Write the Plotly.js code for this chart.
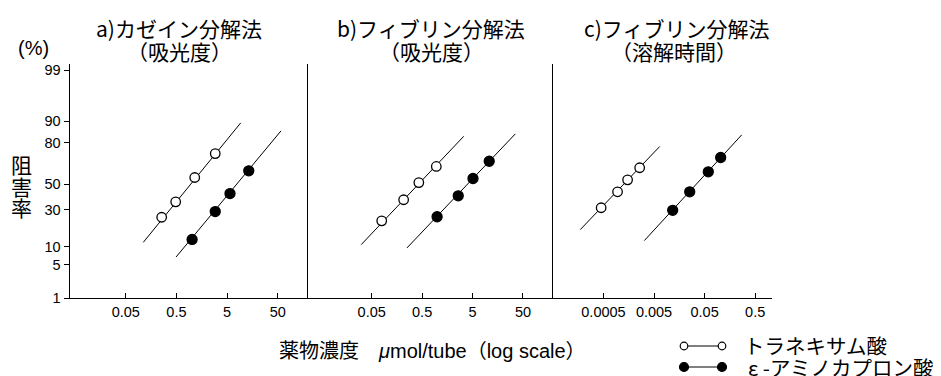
<!DOCTYPE html>
<html>
<head>
<meta charset="utf-8">
<script src="https://cdn.plot.ly/plotly-3.0.1.min.js"></script>
<style>html,body{margin:0;padding:0;background:#fff}#chart{width:941px;height:376px}</style>
</head>
<body>
<div id="chart"></div>
<script>
// ---- data (percent inhibition vs concentration, µmol/tube) ----
const yTickPct = [1, 5, 10, 30, 50, 80, 90, 99];
const xTicksAB = [0.05, 0.5, 5, 50];
const xTicksC = [0.0005, 0.005, 0.05, 0.5];

// a) casein method (absorbance)
const aTranX = [0.256, 0.484, 1.15, 2.92];
const aTranY = [24.9, 35.8, 55.3, 73.3];
const aTranFitX = [0.111, 9.29];
const aTranFitY = [11.7, 89.4];
const aEacaX = [1.02, 2.92, 5.71, 13.4];
const aEacaY = [12.9, 28.7, 42.3, 60.6];
const aEacaFitX = [0.491, 58.0];
const aEacaFitY = [6.8, 86.1];

// b) fibrin method (absorbance)
const bTranX = [0.079, 0.215, 0.43, 0.955];
const bTranY = [22.6, 37.4, 51.2, 64.0];
const bTranFitX = [0.031, 3.34];
const bTranFitY = [10.8, 83.5];
const bEacaX = [0.99, 2.6, 5.1, 10.7];
const bEacaY = [25.2, 40.5, 54.5, 67.9];
const bEacaFitX = [0.25, 35.2];
const bEacaFitY = [9.6, 84.7];

// c) fibrin method (lysis time)
const cTranX = [0.00045, 0.00095, 0.0015, 0.0026];
const cTranY = [31.4, 43.7, 53.4, 63.0];
const cTranFitX = [0.000174, 0.00647];
const cTranFitY = [17.6, 77.8];
const cEacaX = [0.0117, 0.0254, 0.0592, 0.104];
const cEacaY = [29.6, 43.7, 59.8, 70.6];
const cEacaFitX = [0.00321, 0.271];
const cEacaFitY = [12.4, 84.2];

const panelTitles = [
  ["a)カゼイン分解法", "（吸光度）"],
  ["b)フィブリン分解法", "（吸光度）"],
  ["c)フィブリン分解法", "（溶解時間）"]
];
const legendNames = ["トラネキサム酸", "ε -アミノカプロン酸"];
const xTitle = "薬物濃度　<i>μ</i>mol/tube（log scale）";
const yTitleChars = ["阻", "害", "率"];

// ---- probability (probit) scale for the y axis ----
function probit(p) {
  const a=[-3.969683028665376e+01,2.209460984245205e+02,-2.759285104469687e+02,1.383577518672690e+02,-3.066479806614716e+01,2.506628277459239e+00];
  const b=[-5.447609879822406e+01,1.615858368580409e+02,-1.556989798598866e+02,6.680131188771972e+01,-1.328068155288572e+01];
  const c=[-7.784894002430293e-03,-3.223964580411365e-01,-2.400758277161838e+00,-2.549732539343734e+00,4.374664141464968e+00,2.938163982698783e+00];
  const d=[7.784695709041462e-03,3.224671290700398e-01,2.445134137142996e+00,3.754408661907416e+00];
  const pl=0.02425, ph=1-pl; let q,r;
  if (p<pl){q=Math.sqrt(-2*Math.log(p));return (((((c[0]*q+c[1])*q+c[2])*q+c[3])*q+c[4])*q+c[5])/((((d[0]*q+d[1])*q+d[2])*q+d[3])*q+1);}
  if (p<=ph){q=p-0.5;r=q*q;return (((((a[0]*r+a[1])*r+a[2])*r+a[3])*r+a[4])*r+a[5])*q/(((((b[0]*r+b[1])*r+b[2])*r+b[3])*r+b[4])*r+1);}
  q=Math.sqrt(-2*Math.log(1-p));return -(((((c[0]*q+c[1])*q+c[2])*q+c[3])*q+c[4])*q+c[5])/((((d[0]*q+d[1])*q+d[2])*q+d[3])*q+1);
}
const pz = arr => arr.map(v => probit(v / 100));

// ---- layout geometry ----
const W = 941, H = 376;
const L = 70, R = 772, T = 64, B = 298;
const PW = R - L, PH = B - T;
const px = x => (x - L) / PW;
const py = y => (B - y) / PH;
const dA = [0, (308 - L) / PW], dB = [(308 - L) / PW, (553 - L) / PW], dC = [(553 - L) / PW, 1];

const CJK = "Noto Sans CJK JP, sans-serif";
const LAT = "Liberation Sans, Arial, Noto Sans CJK JP, sans-serif";

function fitLine(x, y, xa, ya) {
  return {x: x, y: pz(y), xaxis: xa, yaxis: ya, mode: "lines", type: "scatter",
    line: {color: "#000", width: 1}, hoverinfo: "skip", showlegend: false};
}
function pts(x, y, xa, ya, open) {
  return {x: x, y: pz(y), xaxis: xa, yaxis: ya, mode: "markers", type: "scatter", showlegend: false,
    marker: {symbol: "circle", size: open ? 9.5 : 10, color: open ? "#fff" : "#000",
      line: {color: "#000", width: 1.3}}};
}

const data = [
  fitLine(aTranFitX, aTranFitY, "x", "y"), fitLine(aEacaFitX, aEacaFitY, "x", "y"),
  fitLine(bTranFitX, bTranFitY, "x2", "y2"), fitLine(bEacaFitX, bEacaFitY, "x2", "y2"),
  fitLine(cTranFitX, cTranFitY, "x3", "y3"), fitLine(cEacaFitX, cEacaFitY, "x3", "y3"),
  pts(aTranX, aTranY, "x", "y", true), pts(aEacaX, aEacaY, "x", "y", false),
  pts(bTranX, bTranY, "x2", "y2", true), pts(bEacaX, bEacaY, "x2", "y2", false),
  pts(cTranX, cTranY, "x3", "y3", true), pts(cEacaX, cEacaY, "x3", "y3", false)
];

const yRange = [probit(0.01), 2.45];
function xAx(domain, range, ticks, anchor) {
  return {type: "log", domain: domain, range: range, anchor: anchor,
    showline: true, linecolor: "#000", linewidth: 1.4, showgrid: false, zeroline: false,
    ticks: "inside", ticklen: 5, tickwidth: 1, tickcolor: "#000",
    tickmode: "array", tickvals: ticks, ticktext: ticks.map(String),
    tickfont: {family: LAT, size: 14.5, color: "#000"}, fixedrange: true};
}
function yAx(anchor, labels) {
  const o = {domain: [0, 1], range: yRange, anchor: anchor,
    showline: true, linecolor: "#000", linewidth: 1.4, showgrid: false, zeroline: false, fixedrange: true};
  if (labels) {
    Object.assign(o, {ticks: "outside", ticklen: 5, tickwidth: 1, tickcolor: "#000",
      tickmode: "array", tickvals: pz(yTickPct), ticktext: yTickPct.map(String),
      tickfont: {family: LAT, size: 14.5, color: "#000"}});
  } else {
    Object.assign(o, {ticks: "", showticklabels: false});
  }
  return o;
}

const ann = [];
function txt(text, x, y, size, family, xanchor) {
  ann.push({text: text, x: px(x), y: py(y), xref: "paper", yref: "paper", showarrow: false,
    xanchor: xanchor || "center", yanchor: "middle", font: {family: family || CJK, size: size, color: "#000"}});
}
const titleX = [[179, 179], [431, 431], [676, 674]];
panelTitles.forEach((t, i) => { txt(t[0], titleX[i][0], 28, 21); txt(t[1], titleX[i][1], 51, 21); });
txt("(%)", 33, 48, 20, LAT);
yTitleChars.forEach((ch, i) => txt(ch, 22, 164 + i * 21.5, 21));
txt(xTitle, 277, 351, 20, LAT, "left");
txt(legendNames[0], 742, 345, 20.5, CJK, "left");
txt(legendNames[1], 746, 367, 20.5, CJK, "left");

const shapes = [];
function legendRow(y, open) {
  shapes.push({type: "line", xref: "paper", yref: "paper", x0: px(684), x1: px(722), y0: py(y), y1: py(y),
    line: {color: "#000", width: 1.2}});
  const r = open ? 3.8 : 4.5;
  [684, 722].forEach(cx => shapes.push({type: "circle", xref: "paper", yref: "paper",
    x0: px(cx - r), x1: px(cx + r), y0: py(y + r), y1: py(y - r),
    fillcolor: open ? "#fff" : "#000", line: {color: "#000", width: 1.2}}));
}
legendRow(346, true);
legendRow(367, false);

const layout = {
  width: W, height: H, margin: {l: L, r: W - R, t: T, b: H - B, pad: 0},
  paper_bgcolor: "#fff", plot_bgcolor: "#fff", showlegend: false,
  xaxis: xAx(dA, [-2.401, 2.296], xTicksAB, "y"),
  xaxis2: xAx(dB, [-2.564, 2.294], xTicksAB, "y2"),
  xaxis3: xAx(dC, [-4.299, 0.032], xTicksC, "y3"),
  yaxis: yAx("x", true),
  yaxis2: yAx("x2", false),
  yaxis3: yAx("x3", false),
  annotations: ann, shapes: shapes
};

Plotly.newPlot("chart", data, layout, {displayModeBar: false, staticPlot: true});
</script>
</body>
</html>
